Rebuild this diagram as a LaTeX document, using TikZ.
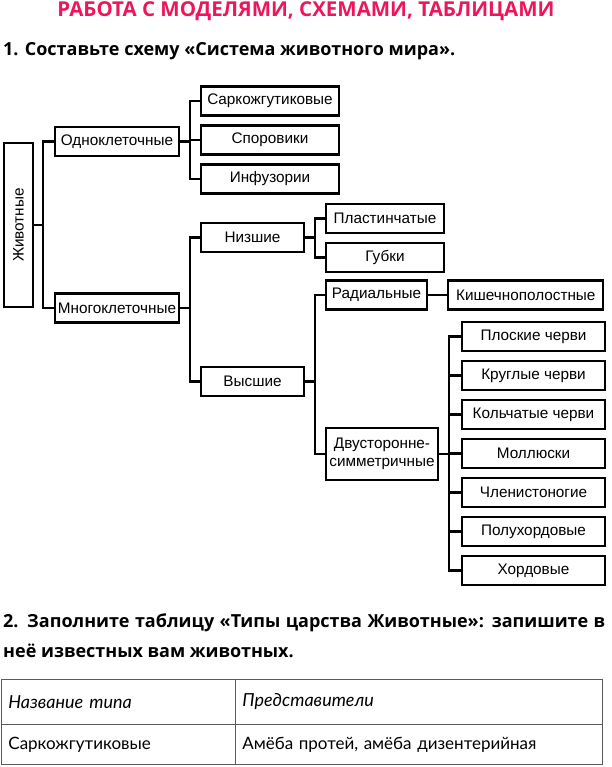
\documentclass[tikz,border=0pt]{standalone}
\usepackage{fontspec}
\setmainfont{Liberation Sans}
\newfontfamily\headfont{Open Sans}
\newfontfamily\tabfont{Lato}
\usetikzlibrary{matrix, positioning}
\definecolor{titlepink}{RGB}{238,22,90}
\definecolor{tablegray}{RGB}{90,90,90}

\begin{document}
\begin{tikzpicture}[x=1pt, y=-1pt,
  box/.style={draw, line width=2.3pt, minimum height=29pt, inner xsep=1pt, inner ysep=2pt, font=\fontsize{15.3}{18}\selectfont},
  link/.style={line width=2.3pt},
  heading/.style={inner sep=0, font=\headfont\bfseries\fontsize{18}{24}\selectfont},
  typetable/.style={matrix of nodes, inner sep=0pt, outer sep=0pt, nodes={draw=tablegray, line width=0.8pt, anchor=center, align=left, inner xsep=7pt, outer sep=0pt, font=\tabfont\fontsize{17}{20}\selectfont}, nodes in empty cells,
    column sep=-0.8pt, row sep=-0.8pt,
    column 1/.style={nodes={text width=220pt}}, column 2/.style={nodes={text width=353pt}},
    row 1/.style={nodes={minimum height=45pt, font=\tabfont\itshape\fontsize{18}{20}\selectfont}},
    row 2/.style={nodes={minimum height=40pt}}}]

  \useasboundingbox (0,0) rectangle (611,767);

  \node[heading, anchor=base, text=titlepink, font=\headfont\bfseries\fontsize{20.5}{24}\selectfont] (title) at (306,17) {РАБОТА С МОДЕЛЯМИ, СХЕМАМИ, ТАБЛИЦАМИ};
  \node[heading, anchor=base west] (task1) at (3,56) {1. Составьте схему «Система животного мира».};

  % scheme
  \node[box, rotate=90, minimum width=164pt] (zhiv) at (18.5,225) {Животные};
  \node[box, minimum width=124pt] (odno) at (117,141.5) {Одноклеточные};
  \node[box, minimum width=124pt] (mnogo) at (117,308) {Многоклеточные};

  \node[box, minimum width=138pt] (sarko) at (270,101) {Саркожгутиковые};
  \node[box, minimum width=138pt, below=7.7pt of sarko] (sporo) {Споровики};
  \node[box, minimum width=138pt, below=7.7pt of sporo] (infuz) {Инфузории};

  \node[box, minimum width=103pt] (nizsh) at (252.5,237.5) {Низшие};
  \node[box, minimum width=103pt] (vyssh) at (252.5,381.5) {Высшие};

  \node[box, minimum width=118pt] (plast) at (385,218.5) {Пластинчатые};
  \node[box, minimum width=118pt, below=7.7pt of plast] (gubki) {Губки};

  \node[box, minimum width=101pt] (radial) at (376.5,295) {Радиальные};
  \node[box, minimum width=155pt, right=19pt of radial] (kishech) {Кишечнополостные};
  \node[box, minimum width=112pt, minimum height=52pt, align=center] (dvust) at (382,454) {Двусторонне-\\симметричные};

  \node[box, minimum width=143pt] (ploskie) at (533.5,336.5) {Плоские черви};
  \node[box, minimum width=143pt, below=7.7pt of ploskie] (kruglye) {Круглые черви};
  \node[box, minimum width=143pt, below=7.7pt of kruglye] (kolchat) {Кольчатые черви};
  \node[box, minimum width=143pt, below=7.7pt of kolchat] (mollus) {Моллюски};
  \node[box, minimum width=143pt, below=7.7pt of mollus] (chlenist) {Членистоногие};
  \node[box, minimum width=143pt, below=7.7pt of chlenist] (poluhord) {Полухордовые};
  \node[box, minimum width=143pt, below=7.7pt of poluhord] (hord) {Хордовые};

  \draw[link] (zhiv.south) -- ++(9,0) |- (odno.west);
  \draw[link] (zhiv.south) -- ++(9,0) |- (mnogo.west);
  \draw[link] (odno.east) -- ++(10,0) |- (sarko.west);
  \draw[link] (odno.east) -- ++(10,0) |- (sporo.west);
  \draw[link] (odno.east) -- ++(10,0) |- (infuz.west);
  \draw[link] (mnogo.east) -- ++(10,0) |- (nizsh.west);
  \draw[link] (mnogo.east) -- ++(10,0) |- (vyssh.west);
  \draw[link] (nizsh.east) -- ++(10,0) |- (plast.west);
  \draw[link] (nizsh.east) -- ++(10,0) |- (gubki.west);
  \draw[link] (vyssh.east) -- ++(10,0) |- (radial.west);
  \draw[link] (vyssh.east) -- ++(10,0) |- (dvust.west);
  \draw[link] (radial) -- (kishech);
  \draw[link] (dvust.east) -- ++(10,0) |- (ploskie.west);
  \draw[link] (dvust.east) -- ++(10,0) |- (kruglye.west);
  \draw[link] (dvust.east) -- ++(10,0) |- (kolchat.west);
  \draw[link] (dvust.east) -- ++(10,0) |- (mollus.west);
  \draw[link] (dvust.east) -- ++(10,0) |- (chlenist.west);
  \draw[link] (dvust.east) -- ++(10,0) |- (poluhord.west);
  \draw[link] (dvust.east) -- ++(10,0) |- (hord.west);

  % table
  \node[heading, anchor=base west] (task2a) at (3,627) {\makebox[602pt][s]{2. Заполните таблицу «Типы царства Животные»: запишите в}};
  \node[heading, anchor=base west] (task2b) at (3,657) {неё известных вам животных.};

  \matrix[typetable, anchor=north west] (types) at (1,679) {
    Название типа & Представители\\
    Саркожгутиковые & Амёба протей, амёба дизентерийная\\
  };
\end{tikzpicture}
\end{document}
